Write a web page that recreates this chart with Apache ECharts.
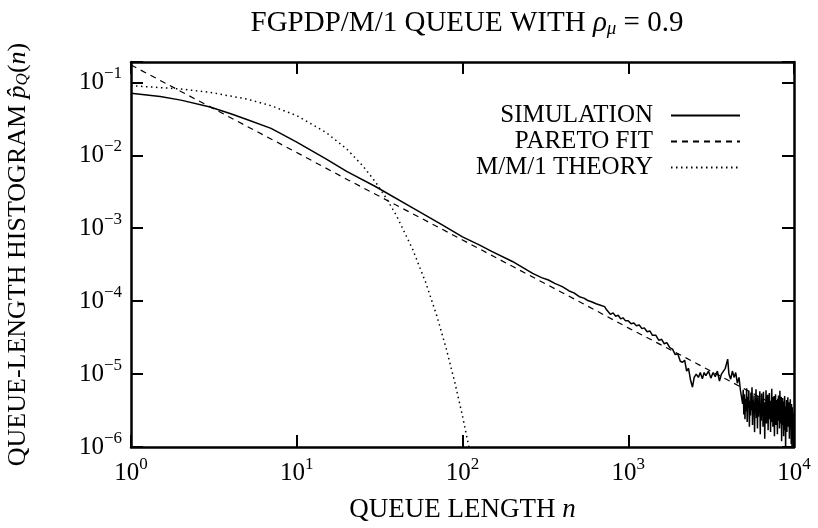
<!DOCTYPE html>
<html>
<head>
<meta charset="utf-8">
<script src="https://cdn.jsdelivr.net/npm/echarts@6/dist/echarts.min.js"></script>
<style>
  html, body { margin: 0; padding: 0; background: #fff; }
  #main { width: 818px; height: 528px; }
</style>
</head>
<body>
<div id="main"></div>
<script>
// series names (legend order)
var seriesNames = ["SIMULATION", "PARETO FIT", "M/M/1 THEORY"];

// tick exponents of the decades shown on each axis
var xTickExp = [0, 1, 2, 3, 4];
var yTickExp = [-6, -5, -4, -3, -2, -1];

// simulation histogram (head, up to n = 4750)
var simN = [1, 1.5, 2, 3, 4, 5, 7, 10, 15, 20, 30, 50, 75, 100, 127, 150, 200, 265,
  300, 330, 360, 400, 440, 470, 507, 540, 570, 600, 640, 680, 720, 740, 750, 780, 810,
  840, 870, 900, 930, 960, 1000, 1040, 1080, 1120, 1165, 1210, 1250, 1300, 1350, 1400,
  1468, 1530, 1590, 1650, 1710, 1780, 1850, 1920, 1990, 2060, 2125, 2190, 2250, 2310,
  2370, 2440, 2500, 2570, 2650, 2720, 2800, 2870, 2940, 3050, 3150, 3250, 3350, 3450,
  3550, 3650, 3750, 3850, 3980, 4050, 4150, 4250, 4350, 4450, 4550, 4660, 4750];
var simP = [0.071, 0.064, 0.057, 0.046, 0.037, 0.031, 0.0234, 0.0151, 0.0089, 0.0060,
  0.0037, 0.0019, 0.00112, 0.00076, 0.000586, 0.00048, 0.00035, 0.00024,
  2.1e-4, 1.95e-4, 1.75e-4, 1.58e-4, 1.38e-4, 1.30e-4, 1.15e-4, 1.10e-4, 1.02e-4,
  9.8e-5, 9.2e-5, 8.8e-5, 8.4e-5, 7.6e-5, 7.2e-5, 6.6e-5, 6.9e-5,
  6.2e-5, 6.4e-5, 5.7e-5, 5.9e-5, 5.4e-5, 5.4e-5, 4.9e-5, 5.0e-5, 4.6e-5, 4.7e-5,
  4.2e-5, 4.3e-5, 3.8e-5, 3.9e-5, 3.4e-5,
  3.4e-5, 2.9e-5, 3.0e-5, 2.6e-5, 2.7e-5, 2.3e-5, 2.2e-5, 1.85e-5, 1.9e-5, 1.5e-5,
  1.45e-5, 1.55e-5, 1.1e-5, 1.2e-5,
  8.5e-6, 6.6e-6, 9.0e-6, 1.0e-5, 9.0e-6, 1.05e-5, 8.6e-6, 1.05e-5, 9.5e-6, 1.1e-5,
  8.8e-6, 1.05e-5, 9.2e-6, 1.1e-5,
  8.0e-6, 1.0e-5, 9.5e-6, 1.2e-5, 1.6e-5, 1.0e-5, 8.5e-6, 1.1e-5, 9.0e-6, 1.05e-5,
  7.5e-6, 9.0e-6, 6.0e-6];

// simulation histogram, noisy tail (n = 4900 .. 10000)
var simTailN = [4900, 4940, 4980, 5020, 5060, 5100, 5140, 5180, 5220, 5260, 5300, 5340,
  5380, 5420, 5460, 5500, 5540, 5580, 5620, 5660, 5700, 5740, 5780, 5820, 5860, 5900,
  5940, 5980, 6020, 6060, 6100, 6140, 6180, 6220, 6260, 6300, 6340, 6380, 6420, 6460,
  6500, 6540, 6580, 6620, 6660, 6700, 6740, 6780, 6820, 6860, 6900, 6940, 6980, 7020,
  7060, 7100, 7140, 7180, 7220, 7260, 7300, 7340, 7380, 7420, 7460, 7500, 7540, 7580,
  7620, 7660, 7700, 7740, 7780, 7820, 7860, 7900, 7940, 7980, 8020, 8060, 8100, 8140,
  8180, 8220, 8260, 8300, 8340, 8380, 8420, 8460, 8500, 8540, 8580, 8620, 8660, 8700,
  8740, 8780, 8820, 8860, 8900, 8940, 8980, 9020, 9060, 9100, 9140, 9180, 9220, 9260,
  9300, 9340, 9380, 9420, 9460, 9500, 9540, 9580, 9620, 9660, 9700, 9740, 9780, 9820,
  9860, 9900, 9940, 9980, 10000];
var simTailP = [3.9e-6, 6.1e-6, 2.8e-6, 5.3e-6, 2.4e-6, 4.6e-6, 3.1e-6, 6.4e-6, 2.2e-6,
  4.9e-6, 3.4e-6, 5.9e-6, 1.9e-6, 4.3e-6, 2.7e-6, 5.6e-6, 3.2e-6, 6.6e-6, 2.0e-6,
  4.4e-6, 2.9e-6, 5.1e-6, 1.6e-6, 4.0e-6, 3.3e-6, 6.2e-6, 2.5e-6, 4.7e-6, 1.8e-6,
  5.0e-6, 2.6e-6, 4.2e-6, 3.0e-6, 5.8e-6, 1.5e-6, 3.9e-6, 2.3e-6, 5.4e-6, 3.1e-6,
  4.5e-6, 1.9e-6, 5.7e-6, 2.8e-6, 4.1e-6, 1.3e-6, 3.7e-6, 2.6e-6, 6.0e-6, 2.1e-6,
  4.6e-6, 3.0e-6, 5.2e-6, 1.7e-6, 4.0e-6, 2.4e-6, 5.5e-6, 2.9e-6, 4.3e-6, 1.6e-6,
  3.8e-6, 2.2e-6, 6.3e-6, 2.7e-6, 4.8e-6, 1.9e-6, 4.1e-6, 3.2e-6, 5.0e-6, 1.4e-6,
  3.6e-6, 2.5e-6, 5.3e-6, 2.0e-6, 4.4e-6, 2.8e-6, 3.9e-6, 1.5e-6, 4.6e-6, 2.3e-6,
  5.1e-6, 2.6e-6, 3.7e-6, 1.8e-6, 5.9e-6, 2.1e-6, 4.0e-6, 2.9e-6, 4.9e-6, 1.2e-6,
  3.5e-6, 2.4e-6, 4.7e-6, 2.0e-6, 3.8e-6, 1.4e-6, 4.2e-6, 2.7e-6, 5.0e-6, 1.7e-6,
  3.6e-6, 0.9e-6, 3.3e-6, 2.2e-6, 4.4e-6, 1.6e-6, 3.9e-6, 2.5e-6, 4.8e-6, 1.9e-6,
  3.4e-6, 2.3e-6, 4.1e-6, 1.3e-6, 3.7e-6, 2.6e-6, 4.5e-6, 1.8e-6, 3.2e-6, 1.1e-6,
  3.9e-6, 2.4e-6, 0.6e-6, 3.5e-6, 2.0e-6, 3.0e-6, 1.5e-6, 2.7e-6, 0.8e-6, 2.2e-6];

// Pareto fit
var paretoN = [1, 2, 5, 10, 20, 50, 100, 200, 500, 1000, 2000, 5000, 10000];
var paretoP = [0.173, 0.075, 0.025, 0.0109, 0.0047, 0.00158, 0.00069, 0.0003,
  0.0001, 0.000043, 0.000019, 0.0000063, 0.0000027];

// M/M/1 theory
var mm1N = [1, 2, 3, 5, 7, 10, 15, 20, 25, 30, 35, 40, 50, 60, 70, 80, 90, 100, 110];
var mm1P = [0.09, 0.081, 0.0729, 0.059, 0.0478, 0.0349, 0.0206, 0.0122, 0.00718,
  0.00424, 0.0025, 0.00148, 0.000515, 0.00018, 0.0000626, 0.0000218, 0.0000076,
  0.00000266, 0.00000093];

function pairs(xs, ys) {
  return xs.map(function (x, i) { return [x, ys[i]]; });
}

function init_chart(container) {
  var FONT = "Liberation Serif";
  var myChart = echarts.init(document.getElementById(container), null, { renderer: "canvas" });

  function decadeLabel(exps) {
    return function (v) {
      var e = Math.round(Math.log10(v));
      if (Math.abs(Math.log10(v) - e) > 1e-6 || exps.indexOf(e) < 0) return "";
      return "{b|10}{s|" + String(e).replace("-", "\u2212") + "}";
    };
  }
  var labelRich = {
    b: { fontFamily: FONT, fontSize: 25, color: "#000", lineHeight: 34 },
    s: { fontFamily: FONT, fontSize: 17, color: "#000", verticalAlign: "top" },
  };
  var lineBlack = { color: "#000", width: 2.5 };
  var tickIn = { show: true, inside: true, length: 12, lineStyle: { color: "#000", width: 2 } };

  var option = {
    animation: false,
    backgroundColor: "#fff",
    textStyle: { fontFamily: FONT, color: "#000" },
    title: {
      text: "FGPDP/M/1 QUEUE WITH {i|\u03c1}{sub|\u03bc} = 0.9",
      left: 462,
      top: 4,
      textAlign: "center",
      textStyle: {
        fontFamily: FONT, fontSize: 29, fontWeight: "normal", color: "#000",
        rich: {
          i: { fontFamily: FONT, fontSize: 29, fontStyle: "italic", color: "#000" },
          sub: { fontFamily: FONT, fontSize: 19, fontStyle: "italic", color: "#000", verticalAlign: "bottom" },
        },
      },
    },
    legend: {
      orient: "vertical",
      right: 72,
      top: 98,
      align: "right",
      itemWidth: 69,
      itemHeight: 14,
      itemGap: 1,
      selectedMode: false,
      itemStyle: { opacity: 0, borderWidth: 0 },
      textStyle: { fontFamily: FONT, fontSize: 25, color: "#000", padding: [0, 13, 0, 0] },
      data: seriesNames,
    },
    grid: { left: 131, right: 24, top: 62, bottom: 81, outerBoundsMode: "none" },
    xAxis: [
      {
        type: "log", logBase: 10, min: 1, max: 10000, position: "bottom",
        axisLine: { show: true, onZero: false, lineStyle: lineBlack },
        axisTick: tickIn, minorTick: { show: false }, splitLine: { show: false },
        axisLabel: { margin: 9, formatter: decadeLabel(xTickExp), rich: labelRich },
        name: "{t|QUEUE LENGTH }{i|n}",
        nameLocation: "middle",
        nameGap: 49,
        nameTextStyle: {
          rich: {
            t: { fontFamily: FONT, fontSize: 27, color: "#000" },
            i: { fontFamily: FONT, fontSize: 27, fontStyle: "italic", color: "#000" },
          },
        },
      },
      {
        type: "log", logBase: 10, min: 1, max: 10000, position: "top",
        axisLine: { show: true, onZero: false, lineStyle: lineBlack },
        axisTick: tickIn, minorTick: { show: false }, splitLine: { show: false },
        axisLabel: { show: false },
      },
    ],
    yAxis: [
      {
        type: "log", logBase: 10, min: 1e-6, max: 0.19, position: "left",
        axisLine: { show: true, onZero: false, lineStyle: lineBlack },
        axisTick: tickIn, minorTick: { show: false }, splitLine: { show: false },
        axisLabel: { margin: 9, formatter: decadeLabel(yTickExp), rich: labelRich },
        name: "{t|QUEUE-LENGTH HISTOGRAM }{i|p\u0302}{sub|Q}{t|(}{i|n}{t|)}",
        nameLocation: "middle",
        nameRotate: 90,
        nameGap: 100,
        nameTextStyle: {
          rich: {
            t: { fontFamily: FONT, fontSize: 26, color: "#000" },
            i: { fontFamily: FONT, fontSize: 26, fontStyle: "italic", color: "#000" },
            sub: { fontFamily: FONT, fontSize: 17, fontStyle: "italic", color: "#000", verticalAlign: "bottom" },
          },
        },
      },
      {
        type: "log", logBase: 10, min: 1e-6, max: 0.19, position: "right",
        axisLine: { show: true, onZero: false, lineStyle: lineBlack },
        axisTick: tickIn, minorTick: { show: false }, splitLine: { show: false },
        axisLabel: { show: false },
      },
    ],
    series: [
      {
        name: seriesNames[0], type: "line", symbol: "none", clip: true,
        data: pairs(simN, simP).concat(pairs(simTailN, simTailP)),
        lineStyle: { color: "#000", width: 1.5 }, itemStyle: { color: "#000" },
      },
      {
        name: seriesNames[1], type: "line", symbol: "none", clip: true,
        data: pairs(paretoN, paretoP),
        lineStyle: { color: "#000", width: 1.2, type: [6, 5] }, itemStyle: { color: "#000" },
      },
      {
        name: seriesNames[2], type: "line", symbol: "none", clip: true,
        data: pairs(mm1N, mm1P),
        lineStyle: { color: "#000", width: 1.5, type: [1.5, 3.5] }, itemStyle: { color: "#000" },
      },
    ],
  };

  option && myChart.setOption(option);
  window.addEventListener("resize", function () {
    myChart.resize();
  });
}

init_chart("main");
</script>
</body>
</html>
